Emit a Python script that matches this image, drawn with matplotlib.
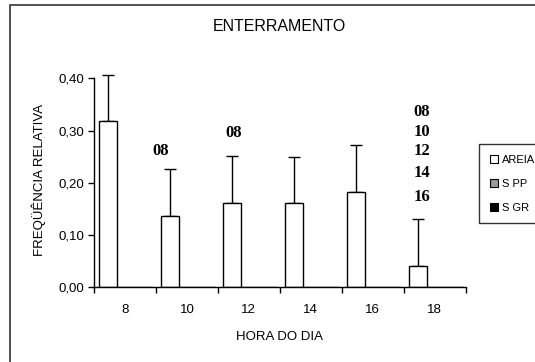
import matplotlib
matplotlib.use('Agg')
import matplotlib.pyplot as plt
import matplotlib.patches as mpatches
import numpy as np

plt.rcParams['font.family'] = ['Liberation Sans', 'DejaVu Sans']

# relative frequency of burying behaviour per hour of day
horas = ['8', '10', '12', '14', '16', '18']
areia = [0.318, 0.137, 0.161, 0.161, 0.182, 0.040]
areia_sd = [0.088, 0.090, 0.091, 0.088, 0.090, 0.091]
s_pp = [0, 0, 0, 0, 0, 0]
s_gr = [0, 0, 0, 0, 0, 0]
series_names = ['AREIA', 'S PP', 'S GR']

yticks = [0.0, 0.1, 0.2, 0.3, 0.4]
ytick_labels = ['0,00', '0,10', '0,20', '0,30', '0,40']

# hours that differ significantly, written above the bars
sig_labels = [
    (1.08, 0.260, '08'),
    (2.26, 0.296, '08'),
    (5.29, 0.335, '08'),
    (5.29, 0.298, '10'),
    (5.29, 0.261, '12'),
    (5.29, 0.219, '14'),
    (5.29, 0.172, '16'),
]

fig = plt.figure(figsize=(5.35, 3.62), dpi=100)
ax = fig.add_axes([94/535, 1-287.3/362, (465.7-94)/535, (287.3-78.3)/362])

x = np.arange(len(horas))
w = 0.29
colors = ['white', '#9a9a9a', 'black']
for k, vals in enumerate([areia, s_pp, s_gr]):
    ax.bar(x + 0.08 + k*w, vals, width=w, align='edge', facecolor=colors[k],
           edgecolor='black', linewidth=1.0, zorder=2)

eb = ax.errorbar(x + 0.08 + w/2, areia, yerr=[np.zeros(len(areia)), areia_sd],
                 fmt='none', ecolor='black', elinewidth=1.0, capsize=4, capthick=1.0, zorder=1)
for part in eb.lines[1] + eb.lines[2]:
    part.set_clip_on(False)

for xs, ys, txt in sig_labels:
    ax.text(xs, ys, txt, ha='center', va='center', fontsize=12, fontweight='bold',
            family=['Liberation Serif', 'DejaVu Serif'])

ax.set_xlim(0, 6)
ax.set_ylim(0, 0.4)
ax.set_xticks(np.arange(0, 7))
ax.set_xticklabels([])
ax.set_xticks(x + 0.5, minor=True)
ax.set_xticklabels(horas, minor=True, fontsize=9.5)
ax.tick_params(axis='x', which='major', length=4, width=1, direction='out')
ax.tick_params(axis='x', which='minor', length=0, pad=12)
ax.set_yticks(yticks)
ax.set_yticklabels(ytick_labels, fontsize=9.5)
ax.tick_params(axis='y', length=4, width=1, direction='out', pad=3)

for s in ['top', 'right']:
    ax.spines[s].set_visible(False)
for s in ['left', 'bottom']:
    ax.spines[s].set_linewidth(1.0)
    ax.spines[s].set_color('black')

fig.text(279/535, 1-26.7/362, 'ENTERRAMENTO', ha='center', va='center', fontsize=11.5)
fig.text(279/535, 1-336.7/362, 'HORA DO DIA', ha='center', va='center', fontsize=9.5)
fig.text(39/535, 1-180/362, 'FREQÜÊNCIA RELATIVA', ha='center', va='center',
         rotation=90, fontsize=9.5)

handles = [mpatches.Patch(facecolor=c, edgecolor='black', linewidth=0.8, label=n)
           for c, n in zip(colors, series_names)]
leg = fig.legend(handles=handles, loc='upper left', bbox_to_anchor=(479.3/535, 1-144.3/362, 0.2, 0),
                 mode='expand', fontsize=8, frameon=True, fancybox=False, borderpad=0.95,
                 labelspacing=1.25, handlelength=0.75, handleheight=0.75, handletextpad=0.3,
                 borderaxespad=0)
leg.get_frame().set_edgecolor('black')
leg.get_frame().set_linewidth(1.0)

# outer chart border, running off the right and bottom edges
fig.patches.append(mpatches.Rectangle((10/535, -0.1), 1.0, 1.1 - 5.5/362, transform=fig.transFigure,
                                      fill=False, edgecolor='#333333', linewidth=1.2))

fig.savefig('out.png', dpi=100)
